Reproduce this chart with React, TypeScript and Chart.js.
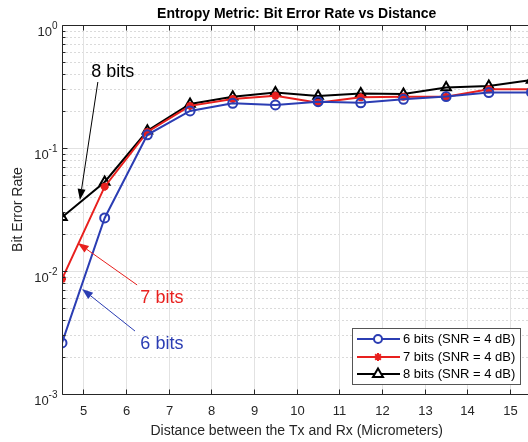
import React, { useEffect, useRef } from "react";
import { Chart, registerables } from "chart.js";

Chart.register(...registerables);

const distances = [4.5, 5.5, 6.5, 7.5, 8.5, 9.5, 10.5, 11.5, 12.5, 13.5, 14.5, 15.5];
const ber6 = [0.0026, 0.027, 0.128, 0.2, 0.231, 0.224, 0.238, 0.233, 0.249, 0.262, 0.282, 0.283];
const ber7 = [0.0086, 0.0485, 0.135, 0.22, 0.25, 0.266, 0.233, 0.258, 0.261, 0.261, 0.3, 0.3];
const ber8 = [0.0273, 0.053, 0.138, 0.228, 0.261, 0.282, 0.265, 0.278, 0.275, 0.311, 0.319, 0.357];

const seriesLabels = ["6 bits (SNR = 4 dB)", "7 bits (SNR = 4 dB)", "8 bits (SNR = 4 dB)"];
const xTicks = [5, 6, 7, 8, 9, 10, 11, 12, 13, 14, 15];
const yDecades = [-3, -2, -1, 0];

// annotations in data coordinates: [text, textX, textY, tailX, tailY, headX, headY, color]
const annotations: [string, number, number, number, number, number, number, string][] = [
  ["8 bits", 5.69, 0.415, 5.34, 0.344, 4.92, 0.0378, "#000000"],
  ["7 bits", 6.84, 0.006, 6.26, 0.0077, 4.87, 0.0169, "#e8201e"],
  ["6 bits", 6.84, 0.00255, 6.21, 0.00325, 4.97, 0.00714, "#2b3db3"],
];

const BLUE = "#2b3db3";
const RED = "#e8201e";
const BLACK = "#000000";
const AX = "#262626";
const FONT = '"Liberation Sans", Arial, Helvetica, sans-serif';

export default function App() {
  const ref = useRef<HTMLCanvasElement>(null);
  useEffect(() => {
    const canvas = ref.current!;
    const mk = (arr: number[]) => distances.map((x, i) => ({ x, y: arr[i] }));
    const plugin = {
      id: "matlabStyle",
      beforeDatasetsDraw(chart: any) {
        const { ctx, chartArea: a, scales } = chart;
        const xs = scales.x, ys = scales.y;
        ctx.save();
        ctx.fillStyle = "#ffffff";
        ctx.fillRect(a.left, a.top, a.right - a.left, a.bottom - a.top);
        ctx.lineWidth = 1;
        // minor y grid
        ctx.strokeStyle = "#dadada";
        ctx.setLineDash([2, 2]);
        for (const d of yDecades.slice(0, 3)) {
          for (let k = 2; k <= 9; k++) {
            const py = Math.round(ys.getPixelForValue(k * Math.pow(10, d))) + 0.5;
            ctx.beginPath();
            ctx.moveTo(a.left, py);
            ctx.lineTo(a.right, py);
            ctx.stroke();
          }
        }
        ctx.setLineDash([]);
        ctx.strokeStyle = "#e2e2e2";
        for (const d of yDecades) {
          const py = Math.round(ys.getPixelForValue(Math.pow(10, d))) + 0.5;
          ctx.beginPath();
          ctx.moveTo(a.left, py);
          ctx.lineTo(a.right, py);
          ctx.stroke();
        }
        for (const t of xTicks) {
          const px = Math.round(xs.getPixelForValue(t)) + 0.5;
          ctx.beginPath();
          ctx.moveTo(px, a.top);
          ctx.lineTo(px, a.bottom);
          ctx.stroke();
        }
        ctx.restore();
      },
      afterDatasetsDraw(chart: any) {
        const { ctx, chartArea: a, scales } = chart;
        const xs = scales.x, ys = scales.y;
        ctx.save();
        // axes box
        ctx.strokeStyle = AX;
        ctx.lineWidth = 1;
        const L = Math.round(a.left) + 0.5, B = Math.round(a.bottom) + 0.5, T = Math.round(a.top) + 0.5, R = Math.round(a.right) + 0.5;
        ctx.beginPath();
        ctx.moveTo(L, T);
        ctx.lineTo(R, T);
        ctx.lineTo(R, B);
        ctx.lineTo(L, B);
        ctx.closePath();
        ctx.stroke();
        // x ticks
        ctx.fillStyle = AX;
        ctx.font = `13px ${FONT}`;
        ctx.textAlign = "center";
        ctx.textBaseline = "middle";
        for (const t of xTicks) {
          const px = Math.round(xs.getPixelForValue(t)) + 0.5;
          ctx.beginPath();
          ctx.moveTo(px, B);
          ctx.lineTo(px, B - 5);
          ctx.moveTo(px, T);
          ctx.lineTo(px, T + 5);
          ctx.stroke();
          ctx.fillText(String(t), px, B + 17);
        }
        // y ticks
        for (const d of yDecades) {
          const py = Math.round(ys.getPixelForValue(Math.pow(10, d))) + 0.5;
          ctx.beginPath();
          ctx.moveTo(L, py);
          ctx.lineTo(L + 5, py);
          ctx.stroke();
          const exp = d === 0 ? "0" : "-" + String(-d);
          ctx.font = `10px ${FONT}`;
          const ew = ctx.measureText(exp).width;
          ctx.textAlign = "left";
          ctx.textBaseline = "alphabetic";
          ctx.fillText(exp, L - 5 - ew, py + 3);
          ctx.font = `13px ${FONT}`;
          ctx.textAlign = "right";
          ctx.fillText("10", L - 5 - ew, py + 10);
          if (d < 0) {
            for (let k = 2; k <= 9; k++) {
              const pm = Math.round(ys.getPixelForValue(k * Math.pow(10, d))) + 0.5;
              ctx.beginPath();
              ctx.moveTo(L, pm);
              ctx.lineTo(L + 3, pm);
              ctx.stroke();
            }
          }
        }
        // title
        const cx = (a.left + a.right) / 2;
        ctx.fillStyle = "#000";
        ctx.textAlign = "center";
        ctx.textBaseline = "middle";
        ctx.font = `bold 14px ${FONT}`;
        ctx.fillText("Entropy Metric: Bit Error Rate vs Distance", cx, 14);
        // x label
        ctx.fillStyle = AX;
        ctx.font = `14px ${FONT}`;
        ctx.fillText("Distance between the Tx and Rx (Micrometers)", cx, 431);
        // y label
        ctx.save();
        ctx.translate(18, (a.top + a.bottom) / 2);
        ctx.rotate(-Math.PI / 2);
        ctx.fillText("Bit Error Rate", 0, 0);
        ctx.restore();
        // annotations
        for (const [txt, tx, ty, x0, y0, x1, y1, col] of annotations) {
          const px0 = xs.getPixelForValue(x0), py0 = ys.getPixelForValue(y0);
          const px1 = xs.getPixelForValue(x1), py1 = ys.getPixelForValue(y1);
          ctx.strokeStyle = col;
          ctx.fillStyle = col;
          ctx.lineWidth = 1;
          const ang = Math.atan2(py1 - py0, px1 - px0);
          const hl = 11, hw = 4;
          const bx = px1 - hl * Math.cos(ang), by = py1 - hl * Math.sin(ang);
          ctx.beginPath();
          ctx.moveTo(px0, py0);
          ctx.lineTo(bx, by);
          ctx.stroke();
          ctx.beginPath();
          ctx.moveTo(px1, py1);
          ctx.lineTo(bx + hw * Math.sin(ang), by - hw * Math.cos(ang));
          ctx.lineTo(bx - hw * Math.sin(ang), by + hw * Math.cos(ang));
          ctx.closePath();
          ctx.fill();
          ctx.font = `18px ${FONT}`;
          ctx.textAlign = "center";
          ctx.textBaseline = "middle";
          ctx.fillText(txt, xs.getPixelForValue(tx), ys.getPixelForValue(ty));
        }
        // legend
        const lx = 352.5, ly = 328.5, lw = 168, lh = 56;
        ctx.fillStyle = "#fff";
        ctx.fillRect(lx, ly, lw, lh);
        ctx.strokeStyle = "#555";
        ctx.lineWidth = 1;
        ctx.strokeRect(lx, ly, lw, lh);
        const cols = [BLUE, RED, BLACK];
        const rows = [339, 357, 374];
        for (let i = 0; i < 3; i++) {
          const y = rows[i];
          ctx.strokeStyle = cols[i];
          ctx.lineWidth = 2;
          ctx.beginPath();
          ctx.moveTo(357, y);
          ctx.lineTo(400, y);
          ctx.stroke();
          const mx = 378;
          if (i === 0) {
            ctx.fillStyle = "#fff";
            ctx.beginPath();
            ctx.arc(mx, y, 4, 0, Math.PI * 2);
            ctx.fill();
            ctx.stroke();
          } else if (i === 1) {
            ctx.beginPath();
            for (let k = 0; k < 4; k++) {
              const an = (k * Math.PI) / 4;
              ctx.moveTo(mx - 4 * Math.cos(an), y - 4 * Math.sin(an));
              ctx.lineTo(mx + 4 * Math.cos(an), y + 4 * Math.sin(an));
            }
            ctx.stroke();
          } else {
            ctx.fillStyle = "#fff";
            ctx.beginPath();
            ctx.moveTo(mx, y - 5.5);
            ctx.lineTo(mx + 5, y + 3);
            ctx.lineTo(mx - 5, y + 3);
            ctx.closePath();
            ctx.fill();
            ctx.stroke();
          }
          ctx.fillStyle = "#000";
          ctx.font = `13px ${FONT}`;
          ctx.textAlign = "left";
          ctx.textBaseline = "middle";
          ctx.fillText(seriesLabels[i], 403, y);
        }
        ctx.restore();
      },
    };
    const chart = new Chart(canvas, {
      type: "line",
      data: {
        datasets: [
          {
            label: seriesLabels[0],
            data: mk(ber6),
            borderColor: BLUE,
            backgroundColor: "#ffffff",
            borderWidth: 2,
            pointStyle: "circle",
            pointRadius: 4.5,
            pointBorderWidth: 2,
            pointBorderColor: BLUE,
            pointBackgroundColor: "rgba(255,255,255,0)",
          },
          {
            label: seriesLabels[1],
            data: mk(ber7),
            borderColor: RED,
            backgroundColor: RED,
            borderWidth: 2,
            pointStyle: "star",
            pointRadius: 4,
            pointBorderWidth: 2.5,
            pointBorderColor: RED,
          },
          {
            label: seriesLabels[2],
            data: mk(ber8),
            borderColor: BLACK,
            backgroundColor: "#ffffff",
            borderWidth: 2,
            pointStyle: "triangle",
            pointRadius: 5.5,
            pointBorderWidth: 2,
            pointBorderColor: BLACK,
            pointBackgroundColor: "rgba(255,255,255,0)",
          },
        ],
      },
      options: {
        animation: false,
        responsive: false,
        devicePixelRatio: 1,
        layout: { padding: { left: 62, top: 25, right: 28.5, bottom: 48 } },
        plugins: { legend: { display: false }, tooltip: { enabled: false }, title: { display: false } },
        scales: {
          x: { type: "linear", min: 4.5, max: 15.5, display: false },
          y: { type: "logarithmic", min: 0.001, max: 1, display: false },
        },
      },
      plugins: [plugin],
    });
    return () => chart.destroy();
  }, []);
  return (
    <div style={{ position: "fixed", left: 0, top: 0, width: 528, height: 442, overflow: "hidden", background: "#fff" }}>
      <canvas ref={ref} width={560} height={442} style={{ width: 560, height: 442, display: "block" }} />
    </div>
  );
}
